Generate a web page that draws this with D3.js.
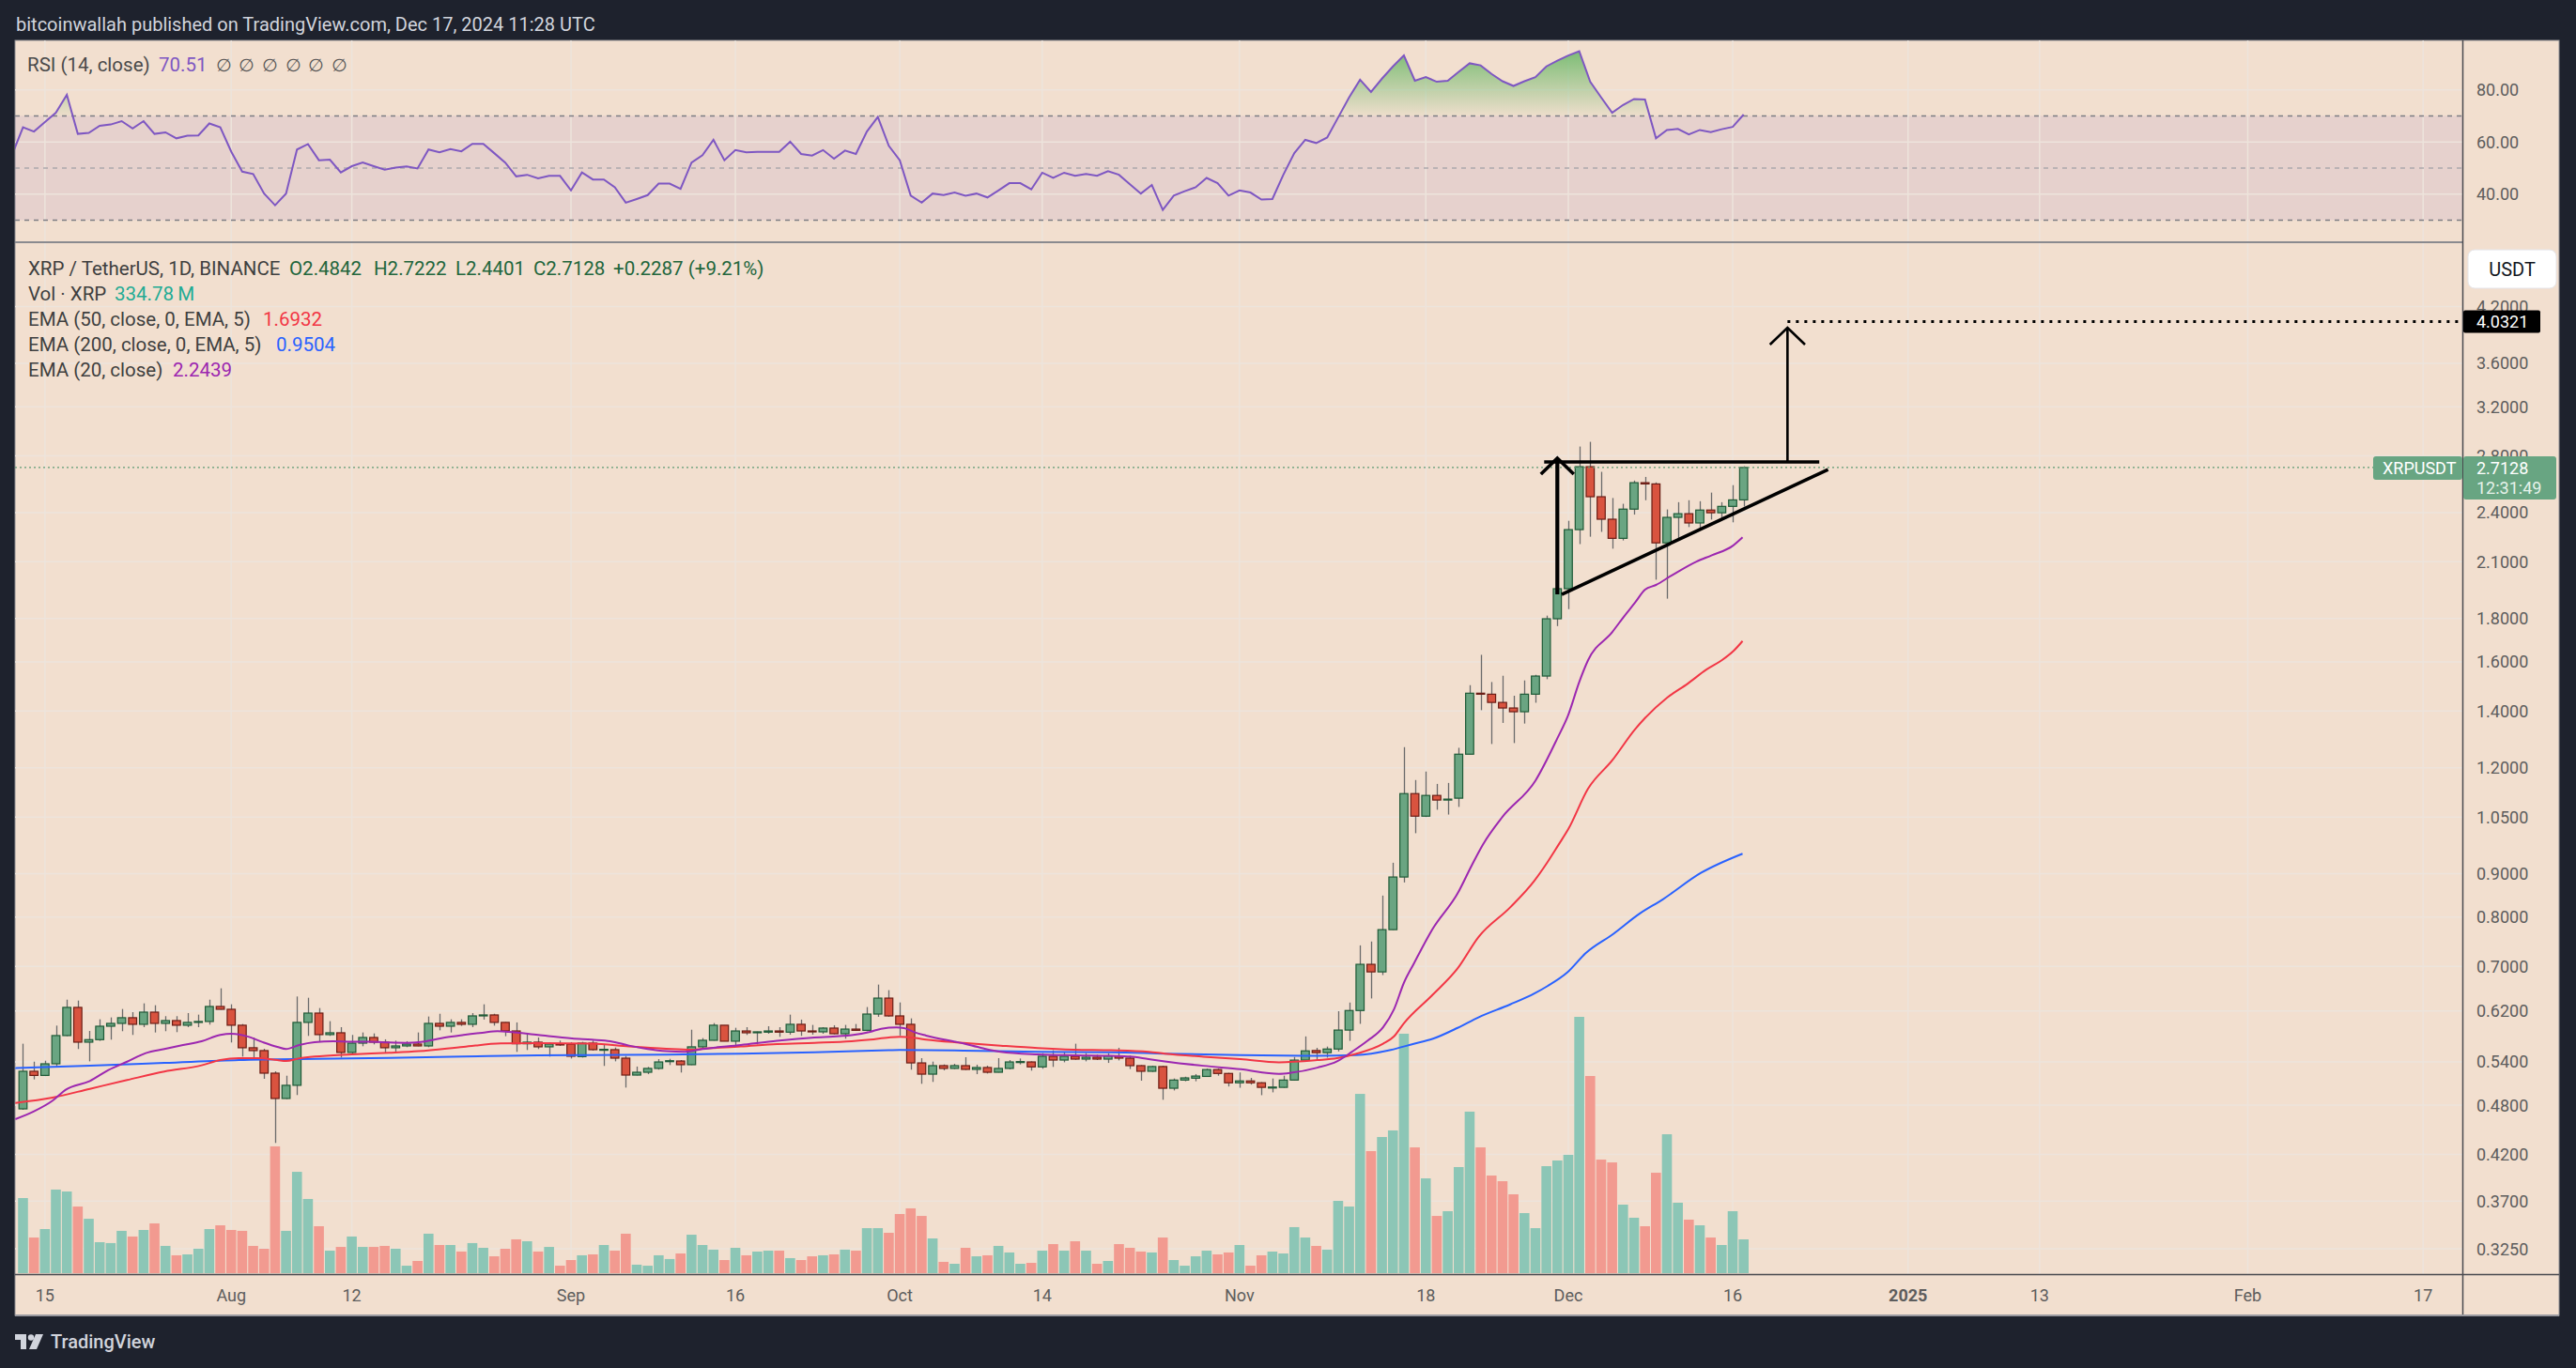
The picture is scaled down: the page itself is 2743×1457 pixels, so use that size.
<!DOCTYPE html>
<html><head><meta charset="utf-8">
<script src="https://cdn.jsdelivr.net/npm/d3@7"></script>
<style>html,body{margin:0;padding:0;background:#1e222d;overflow:hidden}</style>
</head><body><svg id="c"></svg>
<script>
// ---------------- DATA ----------------
const startDate = "2024-07-13"; // first daily candle
const opens = [0.4752,0.5263,0.5204,0.5371,0.5799,0.6260,0.5696,0.5735,0.5948,0.5994,
0.6087,0.5979,0.6180,0.5994,0.6040,0.5964,0.6015,0.6025,0.6276,0.6228,
0.5964,0.5610,0.5567,0.5236,0.4888,0.5066,0.6010,0.6164,0.5814,0.5843,
0.5539,0.5681,0.5769,0.5696,0.5610,0.5638,0.5667,0.5638,0.5994,0.5948,
0.6010,0.5979,0.6117,0.6133,0.6010,0.5872,0.5672,0.5696,0.5624,0.5667,
0.5667,0.5477,0.5681,0.5576,0.5581,0.5454,0.5209,0.5249,0.5304,0.5407,
0.5412,0.5358,0.5624,0.5725,0.5964,0.5711,0.5872,0.5853,0.5853,0.5872,
0.5853,0.5979,0.5872,0.5858,0.5918,0.5828,0.5902,0.5882,0.6148,0.6420,
0.6117,0.5979,0.5384,0.5222,0.5344,0.5304,0.5344,0.5290,0.5317,0.5249,
0.5304,0.5393,0.5398,0.5326,0.5482,0.5426,0.5482,0.5440,0.5468,0.5440,
0.5487,0.5454,0.5344,0.5263,0.5331,0.5026,0.5139,0.5165,0.5190,0.5287,
0.5232,0.5101,0.5127,0.5101,0.5033,0.5038,0.5139,0.5425,0.5568,0.5536,
0.5591,0.5886,0.6207,0.7037,0.6894,0.7732,0.8920,1.1188,1.0523,1.1133,
1.0994,1.1050,1.2452,1.4695,1.4656,1.4332,1.4117,1.3974,1.4656,1.5396,
1.7988,1.9518,2.2916,2.7187,2.5058,2.3572,2.2380,2.4227,2.6031,2.5944,
2.2106,2.3691,2.3930,2.3334,2.4167,2.3989,2.4409,2.4842];
const highs = [0.5672,0.5402,0.5416,0.5958,0.6393,0.6377,0.5872,0.6061,0.6092,0.6233,
0.6180,0.6329,0.6297,0.6113,0.6113,0.6164,0.6138,0.6393,0.6593,0.6313,
0.5984,0.5769,0.5595,0.5263,0.5200,0.6448,0.6426,0.6249,0.6030,0.5933,
0.5809,0.5848,0.5833,0.5740,0.5720,0.5711,0.5848,0.6107,0.6153,0.6061,
0.6061,0.6164,0.6313,0.6153,0.6015,0.6010,0.5833,0.5769,0.5691,0.5720,
0.5696,0.5701,0.5720,0.5652,0.5614,0.5487,0.5331,0.5326,0.5440,0.5444,
0.5426,0.5892,0.5760,0.5999,0.5964,0.5923,0.5933,0.5862,0.5948,0.5933,
0.6138,0.6056,0.5969,0.5933,0.5964,0.5969,0.5984,0.6266,0.6660,0.6560,
0.6345,0.6076,0.5454,0.5403,0.5362,0.5371,0.5468,0.5358,0.5344,0.5454,
0.5426,0.5449,0.5407,0.5529,0.5572,0.5539,0.5672,0.5529,0.5506,0.5525,
0.5610,0.5491,0.5353,0.5344,0.5344,0.5161,0.5186,0.5223,0.5301,0.5301,
0.5241,0.5246,0.5169,0.5110,0.5161,0.5200,0.5471,0.5786,0.5609,0.5628,
0.6196,0.6343,0.7409,0.7487,0.8482,0.9273,1.2692,1.1608,1.1879,1.1487,
1.1517,1.2671,1.5020,1.6310,1.5149,1.5409,1.4594,1.5214,1.5448,1.8142,
1.9530,2.3472,2.8717,2.9087,2.6810,2.4971,2.4582,2.6182,2.6442,2.6052,
2.4207,2.4690,2.4820,2.4755,2.5339,2.4690,2.5857,2.7222];
const lows = [0.4740,0.5148,0.5195,0.5317,0.5790,0.5591,0.5407,0.5716,0.5735,0.5868,
0.5809,0.5933,0.5848,0.5868,0.5853,0.5933,0.5933,0.5974,0.6223,0.5691,
0.5477,0.5430,0.5156,0.4332,0.4880,0.4934,0.5794,0.5701,0.5794,0.5463,
0.5510,0.5633,0.5662,0.5525,0.5548,0.5619,0.5633,0.5619,0.5882,0.5848,
0.5953,0.5933,0.6056,0.5958,0.5789,0.5548,0.5576,0.5591,0.5477,0.5638,
0.5449,0.5463,0.5567,0.5340,0.5407,0.5035,0.5204,0.5222,0.5286,0.5353,
0.5245,0.5353,0.5610,0.5720,0.5711,0.5624,0.5809,0.5662,0.5828,0.5779,
0.5814,0.5794,0.5814,0.5828,0.5819,0.5750,0.5872,0.5868,0.6102,0.6102,
0.5799,0.5286,0.5087,0.5113,0.5276,0.5295,0.5281,0.5222,0.5231,0.5245,
0.5290,0.5362,0.5272,0.5299,0.5326,0.5393,0.5430,0.5407,0.5426,0.5384,
0.5421,0.5295,0.5130,0.5254,0.4871,0.4996,0.5122,0.5122,0.5186,0.5200,
0.5050,0.5033,0.5076,0.4932,0.4970,0.5033,0.5135,0.5416,0.5425,0.5462,
0.5554,0.5716,0.5987,0.6414,0.6835,0.7726,0.8790,1.0047,1.0500,1.0708,
1.0569,1.0791,1.2452,1.4034,1.2802,1.3556,1.2835,1.3532,1.4320,1.5266,
1.7634,1.8465,2.2033,2.2479,2.2777,2.1760,2.2252,2.3870,2.4820,2.0003,
1.8998,2.2344,2.3076,2.2857,2.3552,2.3651,2.3374,2.4401];
const closes = [0.5263,0.5204,0.5371,0.5799,0.6260,0.5696,0.5735,0.5948,0.5994,0.6087,
0.5979,0.6180,0.5994,0.6040,0.5964,0.6010,0.6025,0.6276,0.6228,0.5964,
0.5610,0.5567,0.5236,0.4888,0.5066,0.6010,0.6164,0.5814,0.5843,0.5539,
0.5681,0.5769,0.5696,0.5610,0.5638,0.5667,0.5638,0.5994,0.5948,0.6010,
0.5979,0.6117,0.6133,0.6010,0.5872,0.5672,0.5696,0.5624,0.5667,0.5657,
0.5482,0.5681,0.5581,0.5586,0.5454,0.5209,0.5249,0.5304,0.5398,0.5416,
0.5358,0.5624,0.5725,0.5964,0.5711,0.5872,0.5843,0.5858,0.5872,0.5853,
0.5979,0.5872,0.5858,0.5918,0.5828,0.5902,0.5882,0.6148,0.6420,0.6117,
0.5979,0.5384,0.5222,0.5344,0.5304,0.5344,0.5290,0.5317,0.5249,0.5304,
0.5398,0.5403,0.5326,0.5482,0.5426,0.5482,0.5440,0.5468,0.5440,0.5487,
0.5454,0.5344,0.5263,0.5331,0.5026,0.5139,0.5169,0.5195,0.5287,0.5232,
0.5101,0.5127,0.5101,0.5038,0.5042,0.5139,0.5425,0.5563,0.5536,0.5591,
0.5886,0.6207,0.7037,0.6894,0.7732,0.8920,1.1188,1.0523,1.1133,1.0994,
1.1022,1.2452,1.4695,1.4656,1.4332,1.4117,1.3974,1.4656,1.5396,1.7988,
1.9518,2.2916,2.7187,2.5058,2.3572,2.2380,2.4227,2.6031,2.5944,2.2106,
2.3691,2.3930,2.3334,2.4167,2.3989,2.4409,2.4842,2.7128];
// volume in millions of XRP
const volumes = [744,353,437,828,809,660,539,307,298,419,
363,428,493,270,177,186,242,437,474,428,
419,270,242,1256,419,1004,735,465,223,260,
363,260,260,270,242,74,121,391,279,279,
214,298,251,167,242,335,316,214,260,74,
130,177,186,279,223,391,84,74,177,140,
195,381,279,233,130,251,177,214,223,223,
149,130,167,177,186,233,223,446,446,400,
586,642,567,344,112,93,251,167,177,270,
205,93,102,223,288,223,316,223,93,121,
288,251,214,205,353,130,74,167,223,186,
205,279,74,177,214,195,456,353,270,233,
716,660,1776,1209,1349,1414,2372,1246,939,567,
614,1051,1600,1246,967,911,781,595,446,1060,
1116,1172,2539,1953,1125,1097,679,549,465,995,
1376,698,530,474,353,279,614,334.78];
// RSI(14), one value per day starting the day before startDate
const rsiFirstDay = -1;
const rsi = [55.0,
65.6,64.0,67.6,71.2,78.1,63.1,63.5,66.2,66.7,68.0,
65.2,68.0,63.1,63.7,61.4,62.4,62.5,67.1,65.6,56.3,
48.6,47.7,40.2,35.7,40.2,57.1,59.2,53.0,53.2,48.3,
50.7,52.1,50.7,49.4,50.2,50.6,49.8,57.1,56.0,57.3,
56.4,59.3,59.3,55.7,52.1,46.8,47.4,46.0,47.0,47.0,
41.4,48.3,45.6,45.6,42.6,36.7,38.1,39.6,44.0,44.0,
42.0,52.1,54.9,60.8,53.0,56.9,56.0,56.2,56.2,56.2,
60.1,55.4,54.8,56.9,53.6,56.7,55.4,64.0,69.6,58.5,
53.0,39.4,36.7,40.2,39.6,40.6,39.4,40.2,38.7,41.4,
44.2,44.2,41.8,48.2,46.2,48.2,47.0,47.7,47.0,48.8,
47.4,43.8,40.2,43.5,33.9,39.4,41.1,42.6,46.2,44.2,
39.4,41.4,40.6,37.9,38.1,47.4,55.7,60.8,59.6,61.7,
69.4,77.1,83.9,79.2,84.3,89.0,93.2,83.5,84.9,83.1,
83.5,86.9,90.2,89.4,86.1,83.3,81.5,83.3,84.9,89.0,
91.2,93.2,94.8,83.1,77.1,71.2,74.2,76.5,76.3,61.4,
64.6,65.0,62.9,64.6,63.8,64.9,65.8,70.51];
// EMA readings: day offset from startDate, value
const ema20Days = [-0.7,1,2.7,3.9,6.1,7.8,9.5,11.2,12.9,14.6,16.3,18,19,20.4,21.8,23.2,24,25.2,26.6,28.3,30,31.7,33.4,35.1,36.8,38.5,40.2,41.9,43.3,44.3,47,50.1,51.9,53.6,55.3,57.0,58.7,60.4,62.0,65.5,68.8,72.2,75.6,77.3,78.3,79.7,80.4,81.4,82.4,85.8,87.5,89.2,92.6,95.9,99.3,101.0,102.7,104.2,107.7,111.1,114.6,115.7,118.1,119.9,121.3,122.7,124.1,125.1,126.0,126.9,128.6,130.9,132.2,133.2,135.0,138.0,140.0,141.0,142.0,142.8,145.0,146.1,147.1,148.0,149.0,150.4,152.7,154.1,156.0,156.9];
const ema20Vals = [0.4621,0.4720,0.4859,0.5005,0.5126,0.5281,0.5402,0.5529,0.5591,0.5652,0.5711,0.5809,0.5828,0.5789,0.5701,0.5624,0.5591,0.5652,0.5696,0.5711,0.5701,0.5701,0.5691,0.5686,0.5711,0.5769,0.5809,0.5843,0.5868,0.5858,0.5809,0.5755,0.5735,0.5711,0.5643,0.5591,0.5558,0.5548,0.5591,0.5652,0.5716,0.5769,0.5804,0.5858,0.5907,0.5928,0.5918,0.5848,0.5799,0.5676,0.5605,0.5548,0.5510,0.5496,0.5487,0.5477,0.5440,0.5407,0.5342,0.5292,0.5227,0.5241,0.5315,0.5407,0.5554,0.5721,0.5931,0.6229,0.6692,0.7048,0.7739,0.8531,0.9212,0.9737,1.0504,1.1588,1.2999,1.3855,1.5149,1.6069,1.7342,1.8112,1.8804,1.9467,1.9718,2.0221,2.1012,2.1377,2.1924,2.2439];
const ema50Days = [-0.7,2.7,6.1,9.5,12.9,16.3,18,19.7,21.4,23.2,24,25.2,26.6,30,33.4,36.1,40.2,43.6,47,51.9,55.3,58.7,61.0,62.0,65.5,68.8,72.2,75.6,77.3,79.0,80.0,81.4,82.4,85.8,89.2,92.6,95.9,99.3,102.7,104.2,107.7,111.1,114.6,118.1,119.9,121.6,124.1,125.1,126.0,128.6,130.9,132.8,135.7,137.9,139.1,140.1,141.0,142.8,145.0,147.1,148.0,150.0,151.9,153.6,155.0,156.1,156.9];
const ema50Vals = [0.4830,0.4900,0.5018,0.5139,0.5259,0.5349,0.5426,0.5454,0.5454,0.5426,0.5412,0.5449,0.5477,0.5510,0.5534,0.5558,0.5624,0.5676,0.5681,0.5672,0.5629,0.5595,0.5581,0.5595,0.5629,0.5667,0.5686,0.5711,0.5735,0.5769,0.5779,0.5760,0.5735,0.5686,0.5643,0.5605,0.5581,0.5572,0.5548,0.5522,0.5476,0.5439,0.5393,0.5425,0.5453,0.5517,0.5671,0.5786,0.5997,0.6474,0.6959,0.7577,0.8215,0.8829,0.9288,0.9733,1.0158,1.1336,1.2241,1.3327,1.3735,1.4511,1.5084,1.5668,1.6069,1.6494,1.6932];
const ema200Days = [-0.7,6.1,12.9,19.7,26.6,33.4,40.2,47,51.9,58.7,65.5,72.2,79.0,80.0,85.8,92.6,99.3,104.2,111.1,118.1,121.6,124.8,126.9,128.6,130.9,132.8,135.7,137.9,139.1,140.9,142.6,145.1,147.5,149.6,153.1,156.9];
const ema200Vals = [0.5308,0.5344,0.5384,0.5426,0.5444,0.5458,0.5477,0.5496,0.5501,0.5506,0.5520,0.5543,0.5572,0.5576,0.5567,0.5548,0.5543,0.5522,0.5499,0.5490,0.5499,0.5577,0.5671,0.5746,0.5921,0.6092,0.6311,0.6501,0.6633,0.6882,0.7256,0.7642,0.8074,0.8391,0.9020,0.9504];
// axis ticks
const priceTicks = [4.2,3.6,3.2,2.8,2.4,2.1,1.8,1.6,1.4,1.2,1.05,0.9,0.8,0.7,0.62,0.54,0.48,0.42,0.37,0.325];
const rsiTicks = [80,60,40];
const timeTickDates = ["2024-07-15","2024-08-01","2024-08-12","2024-09-01","2024-09-16","2024-10-01","2024-10-14","2024-11-01","2024-11-18","2024-12-01","2024-12-16","2025-01-01","2025-01-13","2025-02-01","2025-02-17"];
const timeTickLabels = ["15","Aug","12","Sep","16","Oct","14","Nov","18","Dec","16","2025","13","Feb","17"];
// drawn annotations: [day offset, price]
const levelLine = [[138.8,2.754],[163.9,2.754]];
const trendLine = [[140.4,1.922],[164.7,2.698]];
const poleLeft = [[140.0,1.922],[140.0,2.782]];
const headLeft = [[138.5,2.664],[140.0,2.782],[141.5,2.664]];
const poleRight = [[161.0,2.754],[161.0,3.966]];
const headRight = [[159.4,3.788],[161.0,3.966],[162.6,3.788]];
const targetPrice = 4.0321, targetFromDay = 161.0;
const lastPrice = 2.7128;

// ---------------- LAYOUT ----------------
const W = 2743, H = 1457;
const L = 16, R = 2622, AXR = 2725, TOP = 43, RSI_B = 257, P_T = 259, P_B = 1357, BOT = 1401;
const FONT = "Roboto, 'Noto Sans', 'DejaVu Sans', sans-serif";
const BG = "#f2dfcf", GRID = "#ede4dc", TXT = "#5d5d5d";
const UP = "#6aa582", UPB = "#1f5a37", DN = "#d9533f", DNB = "#6b1d15";
const LEG = 20.5;

const svg = d3.select("#c").attr("width", W).attr("height", H).style("display","block");
const t0 = d3.utcParse("%Y-%m-%d")(startDate);
const day = d => new Date(t0.getTime() + d * 864e5);
const x = d3.scaleUtc().domain([day(-0.728), day(222.58)]).range([L, R]);
const y = d3.scaleLog().domain([0.325, 4.2]).range([1330, 326.5]);
const yR = d3.scaleLinear().domain([0, 100]).range([317.7, 40.2]);
const yV = d3.scaleLinear().domain([0, 2539]).range([P_B - 1, 1083]);

svg.append("rect").attr("width", W).attr("height", H).attr("fill", "#1e222d");
svg.append("text").attr("x", 17).attr("y", 26).attr("dominant-baseline","central")
  .attr("font-family", FONT).attr("font-size", 20).attr("fill", "#d1d4dc")
  .text("bitcoinwallah published on TradingView.com, Dec 17, 2024 11:28 UTC");

svg.append("rect").attr("x", L).attr("y", TOP).attr("width", AXR - L).attr("height", BOT - TOP)
  .attr("fill", BG).attr("stroke", "#8f8f94").attr("stroke-width", 1);

const defs = svg.append("defs");
defs.append("clipPath").attr("id","cp").append("rect").attr("x",L).attr("y",P_T).attr("width",R-L).attr("height",P_B-P_T);
defs.append("clipPath").attr("id","cr").append("rect").attr("x",L).attr("y",TOP).attr("width",R-L).attr("height",RSI_B-TOP);
defs.append("clipPath").attr("id","cob").append("rect").attr("x",L).attr("y",TOP).attr("width",R-L).attr("height",yR(70)-TOP);
const gr = defs.append("linearGradient").attr("id","gOB").attr("gradientUnits","userSpaceOnUse")
  .attr("x1",0).attr("x2",0).attr("y1",yR(100)).attr("y2",yR(70));
gr.append("stop").attr("offset",0).attr("stop-color","#4caf50").attr("stop-opacity",0.85);
gr.append("stop").attr("offset",1).attr("stop-color","#4caf50").attr("stop-opacity",0.03);

// ---------- RSI pane ----------
const rp = svg.append("g").attr("clip-path","url(#cr)");
rp.append("rect").attr("x",L).attr("width",R-L).attr("y",yR(70)).attr("height",yR(30)-yR(70)).attr("fill","rgba(126,87,194,0.1)");
timeTickDates.forEach(s => {
  const xx = x(d3.utcParse("%Y-%m-%d")(s));
  rp.append("line").attr("x1",xx).attr("x2",xx).attr("y1",TOP).attr("y2",RSI_B).attr("stroke",GRID).attr("stroke-width",1.5);
});
rsiTicks.forEach(v => rp.append("line").attr("x1",L).attr("x2",R).attr("y1",yR(v)).attr("y2",yR(v)).attr("stroke",GRID).attr("stroke-width",1.5));
[[70,"#7d7d84",1],[50,"#9c9ca3",0.8],[30,"#7d7d84",1]].forEach(([v,c,o]) =>
  rp.append("line").attr("x1",L).attr("x2",R).attr("y1",yR(v)).attr("y2",yR(v))
    .attr("stroke",c).attr("stroke-opacity",o).attr("stroke-width",1.5).attr("stroke-dasharray","5,5"));
const rsiPts = rsi.map((v,i) => [rsiFirstDay + i, v]);
rp.append("path").attr("clip-path","url(#cob)").attr("fill","url(#gOB)")
  .attr("d", d3.area().x(d=>x(day(d[0]))).y0(yR(70)).y1(d=>yR(d[1]))(rsiPts));
rp.append("path").attr("fill","none").attr("stroke","#7e57c2").attr("stroke-width",2)
  .attr("d", d3.line().x(d=>x(day(d[0]))).y(d=>yR(d[1]))(rsiPts));

// ---------- price pane ----------
const pp = svg.append("g").attr("clip-path","url(#cp)");
timeTickDates.forEach(s => {
  const xx = x(d3.utcParse("%Y-%m-%d")(s));
  pp.append("line").attr("x1",xx).attr("x2",xx).attr("y1",P_T).attr("y2",P_B).attr("stroke",GRID).attr("stroke-width",1.5);
});
priceTicks.forEach(v => pp.append("line").attr("x1",L).attr("x2",R).attr("y1",y(v)).attr("y2",y(v)).attr("stroke",GRID).attr("stroke-width",1.5));

const candles = opens.map((o,i) => ({d: day(i), o, h: highs[i], l: lows[i], c: closes[i], v: volumes[i], up: closes[i] >= o}));
const bw = 8.6, vw = 10.6;
pp.append("g").selectAll("rect").data(candles).join("rect")
  .attr("x", d => x(d.d) - vw/2).attr("width", vw)
  .attr("y", d => yV(d.v)).attr("height", d => yV(0) - yV(d.v))
  .attr("fill", d => d.up ? "#8cc6b6" : "#f29a90");
const cg = pp.append("g");
cg.selectAll("line").data(candles).join("line")
  .attr("x1", d => Math.round(x(d.d)) + 0.5).attr("x2", d => Math.round(x(d.d)) + 0.5)
  .attr("y1", d => y(d.h)).attr("y2", d => y(d.l)).attr("stroke", "#6b6b6b").attr("stroke-width", 1.3);
cg.selectAll("rect").data(candles).join("rect")
  .attr("x", d => x(d.d) - bw/2).attr("width", bw)
  .attr("y", d => y(Math.max(d.o,d.c))).attr("height", d => Math.max(1, Math.abs(y(d.o) - y(d.c))))
  .attr("fill", d => d.up ? UP : DN).attr("stroke", d => d.up ? UPB : DNB).attr("stroke-width", 1.2);

const emaLine = d3.line().x(d=>x(day(d[0]))).y(d=>y(d[1])).curve(d3.curveMonotoneX);
[[ema200Days, ema200Vals, "#2962ff"], [ema50Days, ema50Vals, "#f23645"], [ema20Days, ema20Vals, "#9c27b0"]].forEach(([ds, vs, col]) =>
  pp.append("path").attr("fill","none").attr("stroke",col).attr("stroke-width",2)
    .attr("d", emaLine(ds.map((d,i)=>[d, vs[i]]))));

// last price line
pp.append("line").attr("x1",L).attr("x2",2527).attr("y1",y(lastPrice)).attr("y2",y(lastPrice))
  .attr("stroke","#5e9c75").attr("stroke-width",1.3).attr("stroke-dasharray","2,3");

// annotations
const pt = d => [x(day(d[0])), y(d[1])];
const draw = (pts, w) => pp.append("path").attr("fill","none").attr("stroke","#000").attr("stroke-width",w)
  .attr("stroke-linecap","butt").attr("stroke-linejoin","miter").attr("d", d3.line()(pts.map(pt)));
draw(levelLine, 3.6);
draw(trendLine, 3.6);
draw(poleLeft, 4.2);
draw(headLeft, 3.6);
draw(poleRight, 2.6);
draw(headRight, 2.6);
pp.append("line").attr("x1", x(day(targetFromDay))).attr("x2", R - 4).attr("y1", y(targetPrice)).attr("y2", y(targetPrice))
  .attr("stroke","#000").attr("stroke-width",3).attr("stroke-dasharray","3,6");

// ---------- legends ----------
const txt = (g, xx, yy, s, col, size, weight) => g.append("text").attr("x",xx).attr("y",yy).attr("dominant-baseline","central")
  .attr("font-family",FONT).attr("font-size",size||18).attr("font-weight",weight||400).attr("fill",col).text(s);
const lg = svg.append("g");
txt(lg, 29, 69, "RSI (14, close)", "#4a4a4a", LEG);
txt(lg, 169, 69, "70.51", "#7e57c2", LEG);
[230,254,279,304,328,353].forEach(xx => txt(lg, xx, 69, "\u2205", "#555", 19));

txt(lg, 30, 286, "XRP / TetherUS, 1D, BINANCE", "#3f3f3f", LEG);
[["O2.4842",308],["H2.7222",398],["L2.4401",485],["C2.7128",568],["+0.2287 (+9.21%)",653]].forEach(([s,xx]) => txt(lg, xx, 286, s, "#22663c", LEG));
txt(lg, 30, 313, "Vol \u00b7 XRP", "#3f3f3f", LEG); txt(lg, 122, 313, "334.78\u2009M", "#22ab94", LEG);
txt(lg, 30, 340, "EMA (50, close, 0, EMA, 5)", "#3f3f3f", LEG); txt(lg, 280, 340, "1.6932", "#f23645", LEG);
txt(lg, 30, 367, "EMA (200, close, 0, EMA, 5)", "#3f3f3f", LEG); txt(lg, 294, 367, "0.9504", "#2962ff", LEG);
txt(lg, 30, 394, "EMA (20, close)", "#3f3f3f", LEG); txt(lg, 184, 394, "2.2439", "#9c27b0", LEG);

// ---------- axes ----------
const ax = svg.append("g");
ax.append("line").attr("x1",L).attr("x2",R).attr("y1",RSI_B+1).attr("y2",RSI_B+1).attr("stroke","#8a8a8f").attr("stroke-width",2);
ax.append("line").attr("x1",L).attr("x2",AXR).attr("y1",P_B+0.5).attr("y2",P_B+0.5).attr("stroke","#4a4a4f").attr("stroke-width",1.5);
ax.append("line").attr("x1",R+0.5).attr("x2",R+0.5).attr("y1",TOP).attr("y2",BOT).attr("stroke","#4a4a4f").attr("stroke-width",1.5);
ax.append("line").attr("x1",L).attr("x2",AXR).attr("y1",BOT).attr("y2",BOT).attr("stroke","#9a9aa0").attr("stroke-width",2);
priceTicks.forEach(v => txt(ax, 2637, y(v), d3.format(".4f")(v), TXT));
rsiTicks.forEach(v => txt(ax, 2637, yR(v), d3.format(".2f")(v), TXT));
timeTickDates.forEach((s,i) => ax.append("text").attr("x", x(d3.utcParse("%Y-%m-%d")(s))).attr("y", 1379)
  .attr("text-anchor","middle").attr("dominant-baseline","central").attr("font-family",FONT).attr("font-size",18)
  .attr("font-weight", timeTickLabels[i] === "2025" ? 700 : 400).attr("fill", TXT).text(timeTickLabels[i]));

// currency box
ax.append("rect").attr("x",2628).attr("y",266).attr("width",94).attr("height",41).attr("rx",7).attr("fill","#fff").attr("stroke","#e4e4e8");
ax.append("text").attr("x",2675).attr("y",287).attr("text-anchor","middle").attr("dominant-baseline","central")
  .attr("font-family",FONT).attr("font-size",20).attr("fill","#131722").text("USDT");
// target label
ax.append("rect").attr("x",R+1).attr("y",y(targetPrice)-12).attr("width",82).attr("height",24).attr("rx",2).attr("fill","#000");
txt(ax, 2637, y(targetPrice), d3.format(".4f")(targetPrice), "#fff");
// last price labels
ax.append("rect").attr("x",2527).attr("y",y(lastPrice)-12).attr("width",R-2527).attr("height",25).attr("rx",3).attr("fill","#68a582");
txt(ax, 2537, y(lastPrice)+0.5, "XRPUSDT", "#fff");
ax.append("rect").attr("x",R+1).attr("y",y(lastPrice)-12).attr("width",99).attr("height",46).attr("rx",3).attr("fill","#68a582");
txt(ax, 2637, y(lastPrice)+0.5, d3.format(".4f")(lastPrice), "#fff");
txt(ax, 2637, y(lastPrice)+22, "12:31:49", "#e6f2ea");

// ---------- footer logo ----------
const lgo = svg.append("g").attr("fill","#d1d4dc");
lgo.append("path").attr("d","M16 1421 h12 v16 h-6 v-10 h-6 z");
lgo.append("circle").attr("cx",33).attr("cy",1424.5).attr("r",3.2);
lgo.append("path").attr("d","M38 1421 h8 l-7 16 h-8 z");
svg.append("text").attr("x",54).attr("y",1429).attr("dominant-baseline","central").attr("font-family",FONT)
  .attr("font-size",20).attr("font-weight",500).attr("fill","#d1d4dc").text("TradingView");
</script></body></html>
